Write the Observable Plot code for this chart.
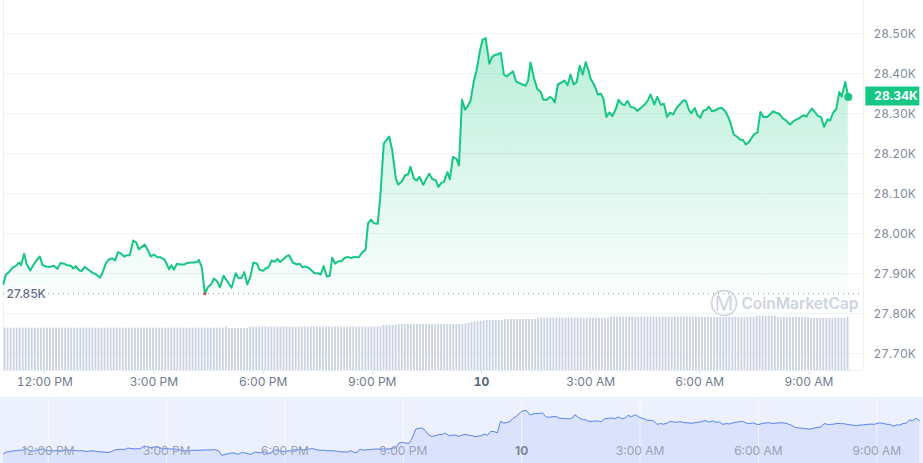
<!DOCTYPE html>
<html><head><meta charset="utf-8">
<script src="https://cdn.jsdelivr.net/npm/d3@7"></script>
<script src="https://cdn.jsdelivr.net/npm/@observablehq/plot@0.6"></script>
<style>
body{margin:0;background:#fff;font-family:Inter,"Noto Sans",sans-serif;}
#wrap{position:relative;width:923px;height:463px;overflow:hidden;}
#main{position:absolute;left:0;top:0;}
#vol{position:absolute;left:0;top:300px;pointer-events:none;}
#nav{position:absolute;left:0;top:397px;}
</style></head><body>
<div id="wrap"><div id="main"></div><div id="vol"></div><div id="nav"></div></div>
<script>
// minutes since midnight, 9 April (values > 1440 are on the 10th)
const minutes = [
652,656,661,667,672,678,681,686,690,696,
701,707,712,716,722,729,735,741,746,752,
757,763,767,771,777,781,786,792,799,805,
811,815,821,826,832,836,841,845,851,855,
860,866,871,875,880,885,889,895,900,906,
911,917,921,925,929,933,938,943,950,955,
962,967,972,974,979,984,989,995,999,1004,
1009,1015,1021,1028,1035,1039,1044,1049,1054,1059,
1064,1070,1074,1080,1084,1089,1094,1099,1104,1108,
1114,1119,1123,1129,1136,1140,1145,1150,1156,1160,
1165,1171,1175,1180,1185,1190,1194,1199,1204,1209,
1215,1220,1225,1230,1238,1244,1249,1253,1258,1263,
1269,1273,1279,1284,1288,1293,1299,1303,1309,1314,
1319,1323,1329,1333,1338,1344,1349,1354,1359,1365,
1369,1374,1378,1384,1388,1393,1399,1403,1408,1413,
1417,1422,1428,1432,1438,1442,1447,1453,1457,1461,
1466,1472,1477,1482,1487,1492,1497,1502,1508,1513,
1517,1521,1527,1532,1538,1542,1548,1553,1557,1561,
1566,1572,1577,1582,1587,1592,1597,1602,1607,1612,
1617,1620,1625,1629,1632,1637,1641,1646,1651,1656,
1662,1666,1671,1676,1681,1686,1692,1697,1703,1708,
1714,1719,1725,1730,1736,1741,1746,1751,1756,1762,
1767,1773,1777,1782,1786,1792,1796,1801,1806,1811,
1815,1820,1825,1831,1836,1842,1847,1851,1856,1861,
1867,1871,1876,1881,1887,1891,1895,1900,1905,1911,
1916,1921,1925,1931,1936,1943,1949,1955,1960,1965,
1971,1976,1980,1985,1990,1995,2000,2005,2011,2015,
2020,2025,2030,2034,2040,2045];

const prices = [
27875,27898,27904,27915,27919,27928,27921,27950,27925,27908,
27921,27935,27943,27922,27918,27917,27920,27912,27927,27925,
27921,27920,27913,27919,27908,27907,27917,27910,27902,27898,
27890,27901,27927,27936,27938,27933,27954,27951,27943,27946,
27946,27983,27978,27961,27967,27973,27962,27943,27948,27941,
27941,27936,27925,27911,27921,27910,27925,27923,27923,27927,
27928,27928,27930,27935,27916,27850,27866,27875,27888,27881,
27866,27895,27881,27865,27901,27890,27889,27904,27873,27892,
27928,27925,27910,27907,27913,27916,27933,27930,27937,27929,
27937,27944,27946,27928,27923,27925,27916,27918,27914,27908,
27901,27901,27898,27919,27893,27895,27940,27925,27931,27931,
27940,27942,27939,27942,27941,27954,27960,28026,28035,28026,
28025,28087,28225,28235,28243,28208,28137,28123,28131,28146,
28148,28167,28137,28133,28142,28122,28137,28150,28137,28133,
28117,28127,28129,28154,28136,28192,28187,28171,28335,28310,
28318,28332,28385,28408,28460,28485,28489,28425,28440,28446,
28448,28452,28398,28393,28400,28406,28381,28377,28373,28370,
28383,28428,28387,28362,28354,28335,28335,28342,28338,28328,
28373,28378,28383,28371,28398,28373,28379,28420,28398,28429,
28406,28387,28375,28360,28348,28350,28338,28292,28303,28294,
28313,28335,28325,28321,28332,28317,28315,28307,28315,28321,
28332,28348,28323,28342,28322,28325,28292,28303,28298,28315,
28323,28333,28333,28310,28301,28314,28297,28290,28308,28310,
28318,28306,28308,28313,28315,28306,28292,28275,28248,28243,
28235,28235,28223,28229,28243,28250,28252,28304,28292,28292,
28298,28306,28303,28300,28290,28282,28273,28282,28286,28290,
28296,28293,28303,28313,28304,28294,28292,28267,28286,28283,
28303,28311,28354,28343,28379,28342];

// volume (billions), 5-minute bars, as runs of [value, number of bars]
const volumeStartMinute = 652;
const volumeRuns = [[12.7,73],[13.0,1],[12.6,7],[13.0,44],[13.5,5],[13.8,22],
  [14.0,1],[14.2,1],[14.4,1],[14.6,1],[14.7,1],[14.8,1],[14.9,1],
  [15.0,6],[15.3,11],[15.7,24],[16.0,29],[15.9,19],[16.3,7],[15.9,11],[15.6,12],[16.0,1]];

const yTicks = [27700,27800,27900,28000,28100,28200,28300,28400,28500];
const priceDomain = [27658, 28583];
const navPriceDomain = [27736, 28674];
const xDomainMinutes = [652, 2070];
const volumeDomain = [0, 21];

const toDate = m => new Date(2023, 3, 9, 0, m);
const data = minutes.map((m, i) => ({t: toDate(m), p: prices[i]}));
const volumes = volumeRuns.flatMap(([v, n]) => Array(n).fill(v));
const volData = volumes.map((v, i) => ({t1: toDate(volumeStartMinute + 5*i), t2: toDate(volumeStartMinute + 5*i + 5), v}));

const xDomain = xDomainMinutes.map(toDate);
const last = data[data.length - 1];
const minPt = data.reduce((a, b) => b.p < a.p ? b : a);
const kfmt = v => (v/1000).toFixed(2) + "K";
const tfmt = d => d.getHours() === 0 ? String(d.getDate()) : d3.timeFormat("%-I:%M %p")(d);
const mainTicks = d3.timeHour.every(3).range(xDomain[0], xDomain[1]);
const navTicks = d3.timeHour.every(3).range(data[0].t, last.t);
const boxSymbol = {draw(ctx) { ctx.rect(-27, -9.5, 54, 19); }};
const font = "Inter, 'Noto Sans', sans-serif";

const main = Plot.plot({
  width: 923, height: 397, marginLeft: 3, marginRight: 60, marginTop: 0, marginBottom: 27,
  style: {background: "transparent", color: "#808a9d", fontFamily: font, fontSize: "12px"},
  x: {type: "time", domain: xDomain, ticks: mainTicks, tickFormat: tfmt, tickSize: 4, tickPadding: 3, label: null},
  y: {domain: priceDomain, ticks: yTicks, tickFormat: kfmt, tickSize: 0, tickPadding: 10, label: null, axis: "right"},
  marks: [
    Plot.ruleY(yTicks, {stroke: "#eff2f5"}),
    Plot.ruleX(xDomain, {stroke: "#eceff3"}),
    Plot.ruleY([priceDomain[0]], {stroke: "#eceff3"}),
    Plot.areaY(data, {x: "t", y1: () => minPt.p, y2: "p", fill: "url(#areaGrad)"}),
    Plot.ruleY([minPt.p], {stroke: "#8b94a5", strokeDasharray: "1,4"}),
    Plot.text([minPt], {x: () => xDomain[0], y: "p", text: d => kfmt(d.p), textAnchor: "start", dx: 3,
      fill: "#616e85", stroke: "white", strokeWidth: 8, fontSize: 12, fontWeight: 500}),
    Plot.text(["Ⓜ"], {text: d => d, frameAnchor: "bottom-right", textAnchor: "middle", lineAnchor: "middle",
      dx: -140, dy: -66, fill: "#cdd3df", fontSize: 28, fontFamily: "DejaVu Sans"}),
    Plot.text(["CoinMarketCap"], {text: d => d, frameAnchor: "bottom-right", textAnchor: "end", lineAnchor: "middle",
      dx: -5, dy: -66, fill: "#cdd3df", fontSize: 15.5, fontWeight: 600}),
    Plot.line(data, {x: "t", y: "p", stroke: "#16c784", strokeWidth: 2, strokeLinejoin: "round"}),
    Plot.dot([minPt], {x: "t", y: "p", r: 1.5, fill: "#ea3943"}),
    Plot.dot([last], {x: "t", y: "p", r: 4, fill: "#16c784"}),
    Plot.dot([last], {x: "t", y: "p", symbol: boxSymbol, fill: "#16c784", dx: 44, dy: -1}),
    Plot.text([last], {x: "t", y: "p", text: d => kfmt(d.p), dx: 26, dy: -1, textAnchor: "start",
      fill: "white", fontWeight: 700, fontSize: 12})
  ]
});

const defs = d3.select(main).insert("defs", ":first-child");
const grad = defs.append("linearGradient").attr("id", "areaGrad")
  .attr("x1", 0).attr("y1", 0).attr("x2", 0).attr("y2", 1);
grad.append("stop").attr("offset", "0%").attr("stop-color", "#16c784").attr("stop-opacity", 0.3);
grad.append("stop").attr("offset", "100%").attr("stop-color", "#16c784").attr("stop-opacity", 0.02);

main.querySelectorAll('[aria-label^="x-axis"] line, [aria-label="x-axis tick"] path').forEach(el => el.setAttribute("stroke", "#dfe3ea"));
main.querySelectorAll('[aria-label^="x-axis"] text').forEach(el => {
  el.setAttribute("fill", "#6f7a8f");
  if (el.textContent === "10") { el.setAttribute("font-weight", "700"); el.setAttribute("fill", "#58667e"); }
});
document.getElementById("main").appendChild(main);

const vol = Plot.plot({
  width: 923, height: 70, marginLeft: 3, marginRight: 60, marginTop: 0, marginBottom: 0,
  style: {background: "transparent"},
  x: {type: "time", domain: xDomain, axis: null},
  y: {domain: volumeDomain, axis: null},
  marks: [Plot.rectY(volData, {x1: "t1", x2: "t2", y: "v", fill: "#cbd2e0", insetLeft: 0.6, insetRight: 0.6})]
});
document.getElementById("vol").appendChild(vol);

const nav = Plot.plot({
  width: 923, height: 66, marginLeft: 3, marginRight: 4, marginTop: 0, marginBottom: 0,
  style: {background: "#edf1fd", fontFamily: font, fontSize: "12px"},
  x: {type: "time", domain: [data[0].t, last.t], axis: null},
  y: {domain: navPriceDomain, axis: null},
  marks: [
    Plot.areaY(data, {x: "t", y1: () => navPriceDomain[0], y2: "p", fill: "#dae2fc"}),
    Plot.ruleX(navTicks, {stroke: "white", strokeOpacity: 0.7}),
    Plot.line(data, {x: "t", y: "p", stroke: "#5b84f4", strokeWidth: 1}),
    Plot.text(navTicks.filter(d => d.getHours() !== 0), {x: d => d, text: tfmt, frameAnchor: "bottom", lineAnchor: "middle", dy: -12, fill: "#9ba3b5"}),
    Plot.text(navTicks.filter(d => d.getHours() === 0), {x: d => d, text: tfmt, frameAnchor: "bottom", lineAnchor: "middle", dy: -12, fill: "#7d8699", fontWeight: 700})
  ]
});
document.getElementById("nav").appendChild(nav);
</script>
</body></html>
